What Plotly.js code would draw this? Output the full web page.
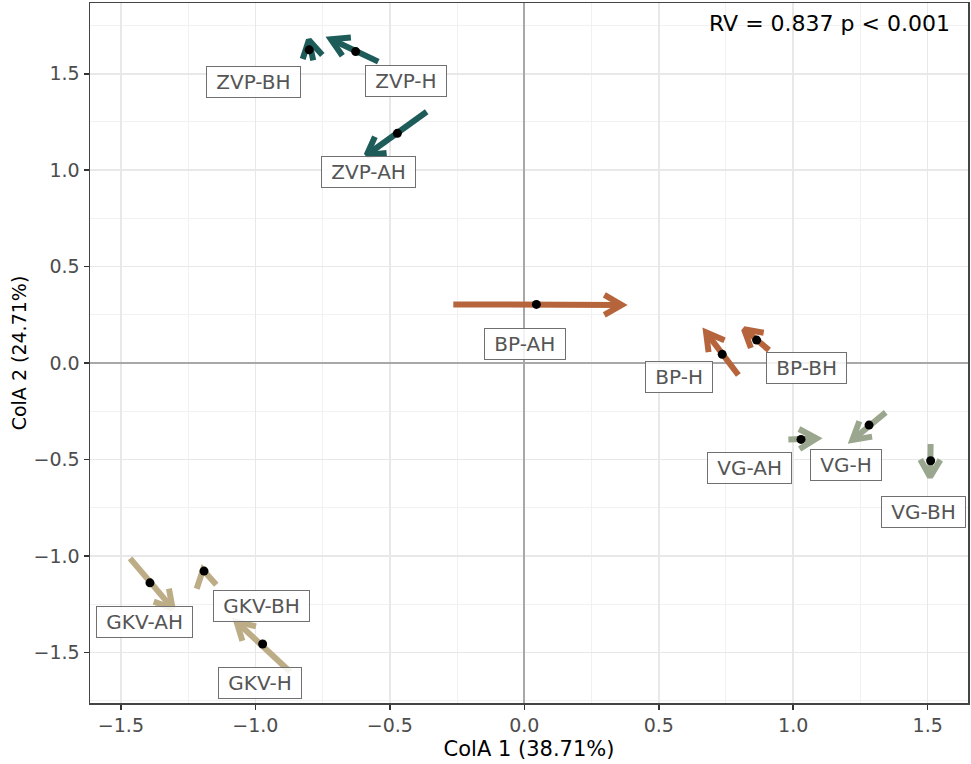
<!DOCTYPE html>
<html>
<head>
<meta charset="utf-8">
<script src="https://cdn.plot.ly/plotly-3.0.1.min.js"></script>
<style>
  html, body { margin: 0; padding: 0; background: #fff; }
  #chart { width: 971px; height: 764px; }
</style>
</head>
<body>
<div id="chart"></div>
<script>
// ---- data ----
const labels = ['ZVP-BH','ZVP-H','ZVP-AH','BP-AH','BP-H','BP-BH','VG-AH','VG-H','VG-BH','GKV-AH','GKV-BH','GKV-H'];
const sites  = ['ZVP','ZVP','ZVP','BP','BP','BP','VG','VG','VG','GKV','GKV','GKV'];
const tailX = [-0.785, -0.543, -0.363, -0.264, 0.796, 0.910, 0.982, 1.344, 1.511, -1.466, -1.192, -0.871];
const tailY = [ 1.570,  1.563,  1.303,  0.304, -0.062, 0.067, -0.396, -0.256, -0.420, -1.013, -1.092, -1.601];
const headX = [-0.801, -0.719, -0.586, 0.362, 0.676, 0.817, 1.087, 1.220, 1.509, -1.308, -1.195, -1.070];
const headY = [ 1.675,  1.679,  1.079, 0.301, 0.159, 0.175, -0.391, -0.399, -0.591, -1.272, -1.072, -1.342];
const dotX  = [-0.800, -0.627, -0.472, 0.045, 0.736, 0.864, 1.029, 1.282, 1.511, -1.392, -1.191, -0.973];
const dotY  = [ 1.624,  1.615,  1.191, 0.304, 0.045, 0.119, -0.396, -0.322, -0.507, -1.140, -1.079, -1.457];
const rvText = 'RV = 0.837 p < 0.001';
const xTitle = 'ColA 1 (38.71%)';
const yTitle = 'ColA 2 (24.71%)';

// ---- layout / style config ----
const labelPosX = [-1.007, -0.440, -0.581, 0.004, 0.574, 1.051, 0.838, 1.197, 1.484, -1.412, -0.977, -0.983];
const labelPosY = [ 1.457,  1.463,  0.991, 0.099, -0.075, -0.027, -0.546, -0.529, -0.775, -1.343, -1.259, -1.657];
const siteColors = { ZVP: '#1e5c59', BP: '#b5643b', VG: '#9aa78e', GKV: '#bdad87' };
const W = 971, H = 764;
const margin = { l: 90, r: 3, t: 3, b: 61 };
const xRange = [-1.615, 1.650];
const yRange = [-1.763, 1.867];
const FONT = 'DejaVu Sans, Arial, sans-serif';

const sx = (W - margin.l - margin.r) / (xRange[1] - xRange[0]);
const sy = (H - margin.t - margin.b) / (yRange[1] - yRange[0]);
const barbLen = 20, barbAng = 30 * Math.PI / 180;

const traces = [];
for (let i = 0; i < labels.length; i++) {
  const dxp = (headX[i] - tailX[i]) * sx;
  const dyp = (headY[i] - tailY[i]) * sy;
  const a = Math.atan2(dyp, dxp);
  const b1 = a + Math.PI - barbAng, b2 = a + Math.PI + barbAng;
  const b1x = headX[i] + barbLen * Math.cos(b1) / sx;
  const b1y = headY[i] + barbLen * Math.sin(b1) / sy;
  const b2x = headX[i] + barbLen * Math.cos(b2) / sx;
  const b2y = headY[i] + barbLen * Math.sin(b2) / sy;
  traces.push({
    type: 'scatter', mode: 'lines',
    x: [tailX[i], headX[i], null, b1x, headX[i], b2x],
    y: [tailY[i], headY[i], null, b1y, headY[i], b2y],
    line: { color: siteColors[sites[i]], width: 6 },
    hoverinfo: 'skip', showlegend: false
  });
}
traces.push({
  type: 'scatter', mode: 'markers', x: dotX, y: dotY,
  marker: { color: '#000', size: 9 },
  hoverinfo: 'skip', showlegend: false
});

const annotations = labels.map((t, i) => ({
  x: labelPosX[i], y: labelPosY[i], xref: 'x', yref: 'y',
  text: '\u00a0' + t + '\u00a0', showarrow: false,
  font: { family: FONT, size: 20, color: '#555555' },
  bgcolor: 'rgba(255,255,255,0.85)', bordercolor: '#707070', borderwidth: 1, borderpad: 3
}));
annotations.push({
  xref: 'paper', yref: 'paper', x: 1, y: 1, xanchor: 'right', yanchor: 'top',
  xshift: -16, yshift: -6, showarrow: false, text: rvText,
  font: { family: FONT, size: 22, color: '#000' }
});

const axisCommon = {
  dtick: 0.5, tick0: 0, tickformat: '.1f',
  ticks: 'outside', ticklen: 5, tickwidth: 1.5, tickcolor: '#333',
  showline: true, linecolor: '#444', linewidth: 1.5, mirror: true,
  showgrid: true, gridcolor: '#E8E8E8', gridwidth: 1.5,
  minor: { dtick: 0.25, tick0: 0, showgrid: true, gridcolor: '#F1F1F1', gridwidth: 1 },
  zeroline: true, zerolinecolor: '#A8A8A8', zerolinewidth: 1.6,
  tickfont: { family: FONT, size: 19, color: '#4D4D4D' }
};

const layout = {
  width: W, height: H, margin: margin,
  paper_bgcolor: '#fff', plot_bgcolor: '#fff',
  showlegend: false,
  xaxis: Object.assign({}, axisCommon, {
    range: xRange,
    title: { text: xTitle, font: { family: FONT, size: 21, color: '#000' }, standoff: 6 }
  }),
  yaxis: Object.assign({}, axisCommon, {
    range: yRange,
    title: { text: yTitle, font: { family: FONT, size: 19, color: '#000' }, standoff: 2 }
  }),
  annotations: annotations
};

Plotly.newPlot('chart', traces, layout, { staticPlot: true, displayModeBar: false });
</script>
</body>
</html>
